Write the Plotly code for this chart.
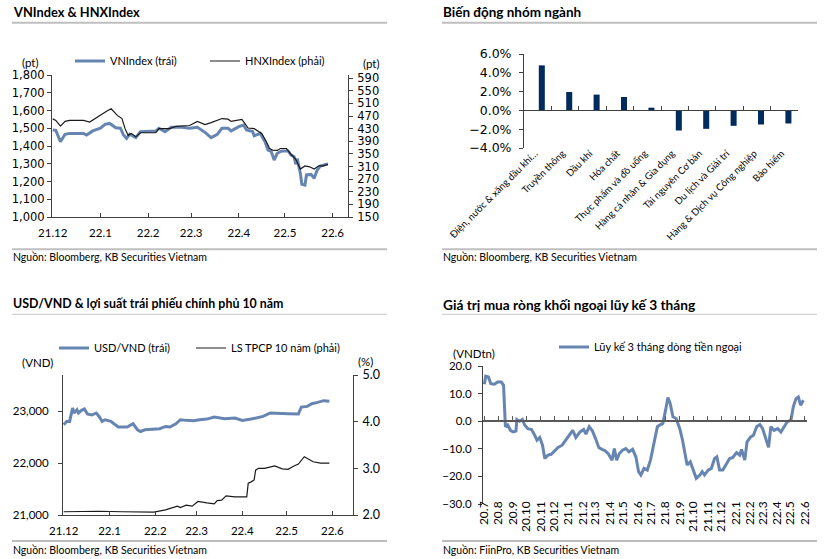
import plotly.graph_objects as go

W, H = 832, 559

# ---------------- data ----------------
# Panel 1: VNIndex & HNXIndex
vn_dates = ["2021-12-01","2021-12-03","2021-12-06","2021-12-09","2021-12-12","2021-12-21","2021-12-23","2021-12-27",
            "2022-01-01","2022-01-04","2022-01-07","2022-01-11","2022-01-14","2022-01-16","2022-01-18","2022-01-20",
            "2022-01-24","2022-01-27","2022-02-06","2022-02-08","2022-02-12","2022-02-16","2022-02-23","2022-02-28",
            "2022-03-05","2022-03-10","2022-03-14","2022-03-18","2022-03-21","2022-03-25","2022-03-27","2022-04-01",
            "2022-04-04","2022-04-06","2022-04-10","2022-04-11","2022-04-15","2022-04-18","2022-04-20","2022-04-22",
            "2022-04-24","2022-04-26","2022-04-29","2022-05-03","2022-05-05","2022-05-07","2022-05-08","2022-05-09",
            "2022-05-11","2022-05-12","2022-05-14","2022-05-15","2022-05-18","2022-05-20","2022-05-22","2022-05-24",
            "2022-05-28","2022-05-29"]
vn_vals = [1490,1488,1424,1466,1471,1471,1462,1485,1500,1522,1527,1503,1500,1462,1443,1466,1447,1481,1484,1500,
           1481,1505,1505,1500,1505,1477,1447,1466,1500,1500,1485,1509,1518,1490,1481,1458,1471,1424,1377,1370,
           1321,1359,1372,1372,1349,1340,1297,1330,1246,1184,1180,1237,1240,1218,1265,1287,1297,1297]

hnx_dates = ["2021-12-01","2021-12-03","2021-12-06","2021-12-09","2021-12-12","2021-12-21","2021-12-25","2021-12-30",
             "2022-01-02","2022-01-05","2022-01-08","2022-01-09","2022-01-12","2022-01-15","2022-01-17","2022-01-19",
             "2022-01-21","2022-01-24","2022-01-27","2022-02-06","2022-02-08","2022-02-15","2022-02-19","2022-02-28",
             "2022-03-05","2022-03-10","2022-03-14","2022-03-21","2022-03-25","2022-03-27","2022-04-03","2022-04-05",
             "2022-04-07","2022-04-11","2022-04-16","2022-04-19","2022-04-21","2022-04-23","2022-04-26","2022-04-28",
             "2022-05-02","2022-05-05","2022-05-08","2022-05-11","2022-05-14","2022-05-17","2022-05-20","2022-05-23",
             "2022-05-26","2022-05-29"]
hnx_vals = [461,456,438,453,456,456,451,467,477,485,493,488,472,462,430,409,415,404,417,417,
            430,430,437,440,453,443,449,462,460,453,459,446,432,430,414,388,367,362,361,367,
            367,348,333,302,312,309,302,312,312,317]

# Panel 2: sector performance (%)
sector_names = ["Điện, nước & xăng dầu khí…", "Truyền thông", "Dầu khí", "Hóa chất",
                "Thực phẩm và đồ uống", "Hàng cá nhân & Gia dụng", "Tài nguyên Cơ bản",
                "Du lịch và Giải trí", "Hàng & Dịch vụ Công nghiệp", "Bảo hiểm"]
sector_chg = [4.79, 1.96, 1.68, 1.43, 0.29, -2.14, -1.96, -1.64, -1.50, -1.39]

# Panel 3: USD/VND & 10Y government bond yield
usd_dates = ["2021-12-01","2021-12-03","2021-12-05","2021-12-07","2021-12-08","2021-12-10","2021-12-11","2021-12-13",
             "2021-12-15","2021-12-17","2021-12-20","2021-12-23","2021-12-25","2021-12-27","2021-12-29","2022-01-02",
             "2022-01-04","2022-01-07","2022-01-13","2022-01-17","2022-01-20","2022-01-22","2022-01-25","2022-01-30",
             "2022-02-04","2022-02-08","2022-02-11","2022-02-15","2022-02-18","2022-02-22","2022-02-27","2022-03-03",
             "2022-03-08","2022-03-13","2022-03-20","2022-03-27","2022-04-01","2022-04-07","2022-04-15","2022-04-20",
             "2022-04-25","2022-05-02","2022-05-09","2022-05-11","2022-05-15","2022-05-18","2022-05-22","2022-05-26",
             "2022-05-30"]
usd_vals = [22741,22805,22805,23064,22967,23030,22967,23018,23044,22947,22928,22967,22901,22805,22837,22805,
            22760,22696,22696,22760,22644,22611,22644,22657,22663,22708,22696,22760,22837,22825,22818,22837,
            22850,22890,22857,22870,22824,22850,22901,22967,22967,22953,22947,23082,23095,23147,23172,23205,
            23192]

bond_dates = ["2021-12-01","2021-12-15","2021-12-25","2022-01-10","2022-01-25","2022-01-31","2022-02-08","2022-02-11",
              "2022-02-16","2022-02-18","2022-02-22","2022-02-26","2022-03-02","2022-03-08","2022-03-13","2022-03-15",
              "2022-03-18","2022-03-21","2022-03-27","2022-04-04","2022-04-05","2022-04-07","2022-04-09","2022-04-10",
              "2022-04-12","2022-04-16","2022-04-23","2022-04-28","2022-05-02","2022-05-06","2022-05-09","2022-05-13",
              "2022-05-16","2022-05-19","2022-05-24","2022-05-30"]
bond_vals = [2.07,2.08,2.08,2.07,2.07,2.06,2.11,2.14,2.19,2.16,2.21,2.19,2.29,2.26,2.24,2.31,
             2.32,2.41,2.39,2.39,2.68,2.71,2.75,2.96,3.00,3.00,3.05,2.99,2.98,3.05,3.09,3.25,
             3.20,3.14,3.11,3.11]

# Panel 4: 3-month cumulative foreign net buying (VND tn)
flow_dates = ["2020-07-01","2020-07-04","2020-07-10","2020-07-15","2020-07-23","2020-07-30","2020-08-07","2020-08-12",
              "2020-08-14","2020-08-16","2020-08-21","2020-08-27","2020-09-02","2020-09-08","2020-09-10","2020-09-16",
              "2020-09-22","2020-09-27","2020-10-04","2020-10-12","2020-10-19","2020-10-24","2020-10-30","2020-11-05",
              "2020-11-10","2020-11-17","2020-11-24","2020-12-02","2020-12-09","2020-12-18","2020-12-26","2021-01-03",
              "2021-01-10","2021-01-17","2021-01-26","2021-02-03","2021-02-08","2021-02-15","2021-02-22","2021-03-01",
              "2021-03-08","2021-03-15","2021-03-22","2021-03-29","2021-04-06","2021-04-11","2021-04-16","2021-04-22",
              "2021-04-29","2021-05-06","2021-05-13","2021-05-21","2021-05-28","2021-06-03","2021-06-08","2021-06-15",
              "2021-06-22","2021-06-29","2021-07-05","2021-07-10","2021-07-14","2021-07-19","2021-07-26","2021-08-01",
              "2021-08-06","2021-08-11","2021-08-17","2021-08-24","2021-09-01","2021-09-07","2021-09-12","2021-09-17",
              "2021-09-24","2021-09-30","2021-10-07","2021-10-15","2021-10-20","2021-10-25","2021-11-02","2021-11-09",
              "2021-11-16","2021-11-21","2021-11-27","2021-12-04","2021-12-11","2021-12-19","2021-12-26","2022-01-03",
              "2022-01-10","2022-01-14","2022-01-21","2022-01-26","2022-02-03","2022-02-09","2022-02-16","2022-02-23",
              "2022-03-01","2022-03-08","2022-03-14","2022-03-19","2022-03-26","2022-04-03","2022-04-10","2022-04-17",
              "2022-04-24","2022-05-02","2022-05-07","2022-05-13","2022-05-18","2022-05-23","2022-05-29"]
flow_vals = [13.4,16.3,16.0,13.6,13.4,14.2,14.2,13.0,
             5.2,-2.0,-1.4,-3.3,-3.9,-3.6,0.6,0.0,
             0.6,-1.4,-2.7,-3.0,-5.1,-6.9,-5.9,-8.7,
             -13.5,-12.3,-12.0,-10.7,-9.5,-8.7,-6.9,-5.1,
             -3.3,-5.9,-3.9,-3.0,-4.7,-2.0,-3.5,-6.3,
             -9.5,-10.2,-10.7,-11.9,-14.1,-9.9,-14.1,-11.7,
             -10.5,-9.9,-11.1,-10.2,-12.9,-18.3,-19.5,-17.1,
             -17.7,-14.1,-9.3,-6.3,-2.0,-1.4,-0.8,4.0,
             8.6,6.4,1.6,1.0,-2.7,-6.9,-11.7,-15.9,
             -14.7,-17.7,-20.7,-19.5,-18.3,-19.5,-17.7,-17.1,
             -13.5,-12.9,-17.7,-17.7,-15.9,-13.5,-13.1,-11.4,
             -12.3,-10.2,-14.1,-7.5,-5.7,-5.1,-2.0,-1.2,
             -2.7,-6.9,-9.5,-2.0,-3.3,-2.7,-3.9,-2.0,
             -0.2,0.4,5.2,8.2,8.8,5.8,7.6]

# ---------------- styling helpers ----------------
BLUE = "#6685B1"
DARK = "#1a1a1a"
AX = "#404040"
FONT = "Lato"
TICKF = "DejaVu Sans"


def fx(p):
    return p / W


def fy(p):
    return 1 - p / H


fig = go.Figure()

# Panel 1
fig.add_trace(go.Scatter(x=vn_dates, y=vn_vals, name="VNIndex (trái)", mode="lines",
                         line=dict(color=BLUE, width=3), xaxis="x", yaxis="y", legend="legend"))
fig.add_trace(go.Scatter(x=hnx_dates, y=hnx_vals, name="HNXIndex (phải)", mode="lines",
                         line=dict(color=DARK, width=1.2), xaxis="x", yaxis="y2", legend="legend2"))
# Panel 2
fig.add_trace(go.Bar(x=sector_names, y=sector_chg, xaxis="x2", yaxis="y3",
                     marker=dict(color="#002B5C", line=dict(width=0)),
                     width=0.22, offset=0.04, showlegend=False))
fig.add_trace(go.Scatter(x=[i + 0.1 for i in range(len(sector_names))], y=sector_chg, xaxis="x3", yaxis="y3",
                         mode="markers", marker=dict(opacity=0), showlegend=False, hoverinfo="skip"))
# Panel 3
fig.add_trace(go.Scatter(x=usd_dates, y=usd_vals, name="USD/VND (trái)", mode="lines",
                         line=dict(color=BLUE, width=3), xaxis="x4", yaxis="y4", legend="legend3"))
fig.add_trace(go.Scatter(x=bond_dates, y=bond_vals, name="LS TPCP 10 năm (phải)", mode="lines",
                         line=dict(color=DARK, width=1.2), xaxis="x4", yaxis="y5", legend="legend4"))
# Panel 4
fig.add_trace(go.Scatter(x=flow_dates, y=flow_vals, name="Lũy kế 3 tháng dòng tiền ngoại", mode="lines",
                         line=dict(color=BLUE, width=3), xaxis="x5", yaxis="y6", legend="legend5"))
fig.add_trace(go.Scatter(x=flow_dates, y=flow_vals, xaxis="x6", yaxis="y6", mode="markers",
                         marker=dict(opacity=0), showlegend=False, hoverinfo="skip"))

common = dict(showgrid=False, zeroline=False, linecolor=AX, linewidth=1, tickcolor=AX, automargin=False)

# domains
y1_dom = [fy(217), fy(75)]
y3_dom = [fy(148), fy(54)]
y4_dom = [fy(515), fy(375)]
y6_dom = [fy(504), fy(366)]
zero2 = y3_dom[0] + (0 - (-4)) / 10 * (y3_dom[1] - y3_dom[0])
zero4 = y6_dom[0] + (0 - (-30)) / 50 * (y6_dom[1] - y6_dom[0])

leg_common = dict(bgcolor="rgba(0,0,0,0)", borderwidth=0, xanchor="left", yanchor="middle",
                  font=dict(family=FONT, size=11, color="#000"), itemwidth=30)

fig.update_layout(
    template="none",
    width=W, height=H, margin=dict(l=0, r=0, t=0, b=0, autoexpand=False),
    paper_bgcolor="white", plot_bgcolor="white",
    font=dict(family=FONT, size=11, color="#000"),
    hovermode=False,
    # ---- panel 1 ----
    xaxis=dict(domain=[fx(52), fx(348)], anchor="y", type="date",
               range=["2021-11-30 12:00", "2022-06-11"], dtick="M1", tick0="2021-12-01",
               tickformat="%y.%-m", ticks="inside", ticklen=4, showline=True,
               tickfont=dict(family=FONT, size=11.5), ticklabelstandoff=5, **common),
    yaxis=dict(domain=y1_dom, anchor="x", range=[1000, 1800], dtick=100, tickformat=",",
               ticks="outside", ticklen=4, showline=True,
               tickfont=dict(family=TICKF, size=11.5), **common),
    yaxis2=dict(overlaying="y", side="right", anchor="x", range=[150, 600], tick0=150, dtick=40,
                ticks="outside", ticklen=4, showline=True, ticklabelstandoff=2,
                tickfont=dict(family=TICKF, size=11.5), **common),
    # ---- panel 2 ----
    xaxis2=dict(domain=[fx(524), fx(798)], anchor="free", position=zero2, type="category",
                categoryorder="array", categoryarray=sector_names, range=[-0.5, 9.5],
                showline=True, ticks="inside", tickson="boundaries", ticklen=4,
                showticklabels=False, **common),
    xaxis3=dict(overlaying="x2", anchor="free", position=fy(143), range=[-0.4, 9.6],
                tickmode="array", tickvals=list(range(len(sector_names))), ticktext=sector_names,
                tickangle=-45, ticks="", showline=False, showgrid=False, zeroline=False, automargin=False,
                ticklabelstandoff=2, tickfont=dict(family=FONT, size=9.7)),
    yaxis3=dict(domain=y3_dom, anchor="x2", range=[-4, 6], dtick=2, tickformat=".1f", ticksuffix="%",
                ticks="outside", ticklen=4, showline=True, ticklabelstandoff=5,
                tickfont=dict(family=TICKF, size=12.5), **common),
    # ---- panel 3 ----
    xaxis4=dict(domain=[fx(63), fx(353)], anchor="y4", type="date",
                range=["2021-11-30 12:00", "2022-06-15"], dtick="M1", tick0="2021-12-01",
                tickformat="%y.%-m", ticks="inside", ticklen=4, showline=True,
                tickfont=dict(family=FONT, size=11.5), ticklabelstandoff=5, **common),
    yaxis4=dict(domain=y4_dom, anchor="x4", range=[21000, 23700], dtick=1000, tickformat=",",
                ticks="outside", ticklen=4, showline=True, ticklabelstandoff=7,
                tickfont=dict(family=FONT, size=11.5), **common),
    yaxis5=dict(overlaying="y4", side="right", anchor="x4", range=[2, 5], dtick=1, tickformat=".1f",
                ticks="outside", ticklen=4, showline=True, ticklabelstandoff=2,
                tickfont=dict(family=FONT, size=12.5), **common),
    # ---- panel 4 ----
    xaxis5=dict(domain=[fx(483), fx(807)], anchor="free", position=zero4, type="date",
                range=["2020-06-28", "2022-06-06"], dtick="M1", tick0="2020-07-01",
                ticks="inside", ticklen=4, showline=True, showticklabels=False, automargin=False,
                showgrid=False, zeroline=False, linecolor="#595959", linewidth=1.5, tickcolor="#595959"),
    xaxis6=dict(overlaying="x5", anchor="free", position=fy(498), type="date",
                range=["2020-06-28", "2022-06-06"], dtick="M1", tick0="2020-07-01",
                tickformat="%y.%-m", tickangle=-90, ticks="", showline=False, showgrid=False,
                zeroline=False, automargin=False, tickfont=dict(family=FONT, size=12)),
    yaxis6=dict(domain=y6_dom, anchor="x5", range=[-30, 20], dtick=10, tickformat=".1f",
                ticks="outside", ticklen=4, showline=True, ticklabelstandoff=4,
                tickfont=dict(family=FONT, size=11.5), **common),
    # ---- legends ----
    legend=dict(x=fx(70), y=fy(61), **leg_common),
    legend2=dict(x=fx(205), y=fy(61), **leg_common),
    legend3=dict(x=fx(54), y=fy(348), **leg_common),
    legend4=dict(x=fx(191), y=fy(348), **leg_common),
    legend5=dict(x=fx(554), y=fy(347), **leg_common),
)

# ---------------- texts ----------------
def note(text, x, y, size=11, bold=False, xanchor="left", color="#000"):
    fig.add_annotation(text=text, xref="paper", yref="paper", x=fx(x), y=fy(y), xanchor=xanchor,
                       yanchor="middle", showarrow=False,
                       font=dict(family=FONT, size=size, color=color, weight="bold" if bold else "normal"))


note("VNIndex & HNXIndex", 11, 12, 12.8, True)
note("Biến động nhóm ngành", 441, 12, 13.5, True)
note("USD/VND & lợi suất trái phiếu chính phủ 10 năm", 11, 303, 12.4, True)
note("Giá trị mua ròng khối ngoại lũy kế 3 tháng", 441, 304, 13.7, True)

note("Nguồn: Bloomberg, KB Securities Vietnam", 11, 257, 10.5)
note("Nguồn: Bloomberg, KB Securities Vietnam", 441, 257, 10.5)
note("Nguồn: Bloomberg, KB Securities Vietnam", 11, 550, 10.5)
note("Nguồn: FiinPro, KB Securities Vietnam", 441, 550, 10.5)

note("(pt)", 20, 63, 11.5)
note("(pt)", 361, 64, 11.5)
note("(VND)", 20, 362, 11.5)
note("(%)", 356, 361, 11.5)
note("(VNDtn)", 451, 353, 11.5)

# separator rules
for x0, x1 in [(12, 387), (442, 817)]:
    for y, wdt, col in [(22.7, 2, "#BFBFBF"), (249.3, 2, "#BFBFBF"), (314.3, 1, "#C8C8C8"), (541, 1.5, "#A6A6A6")]:
        fig.add_shape(type="line", xref="paper", yref="paper", x0=fx(x0), x1=fx(x1), y0=fy(y), y1=fy(y),
                      line=dict(color=col, width=wdt))

fig.write_html("out.html", post_script="document.body.style.margin='0';",
               config={"displayModeBar": False})
